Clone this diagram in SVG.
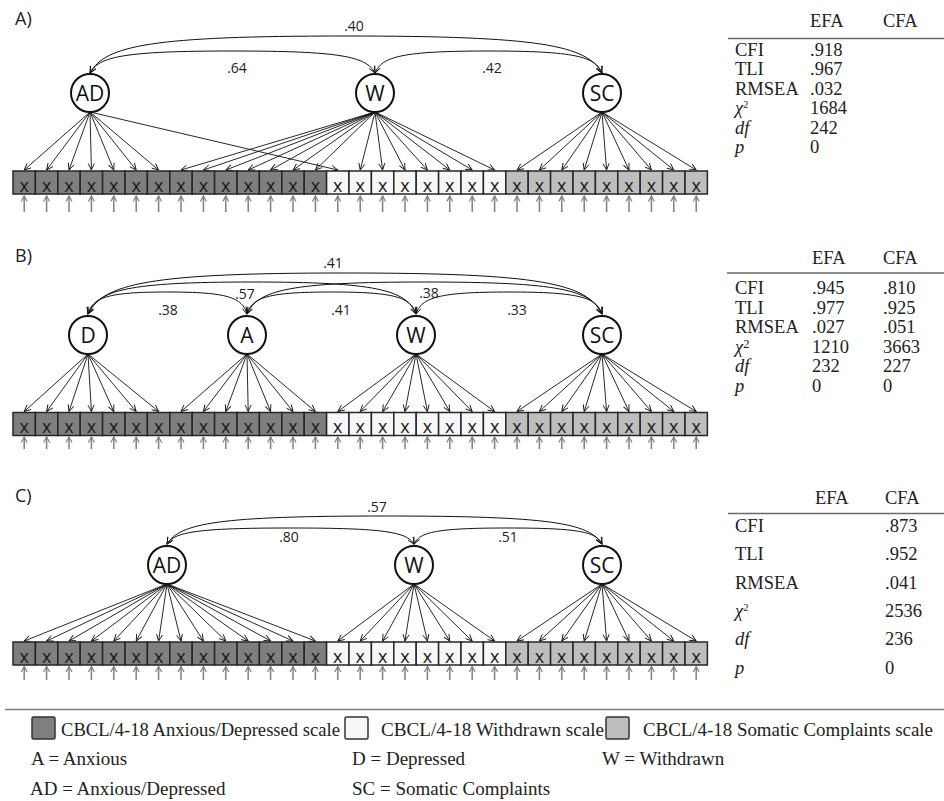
<svg xmlns="http://www.w3.org/2000/svg" width="944" height="801" viewBox="0 0 944 801">
<defs>
<marker id="ah" viewBox="-8 -4 9 8" refX="0" refY="0" markerWidth="9" markerHeight="8" orient="auto-start-reverse" markerUnits="userSpaceOnUse"><path d="M-6.5,-3 L0,0 L-6.5,3" fill="none" stroke="#111" stroke-width="0.9"/></marker>
<marker id="ahg" viewBox="-8 -4 9 8" refX="0" refY="0" markerWidth="9" markerHeight="8" orient="auto" markerUnits="userSpaceOnUse"><path d="M-5.5,-3 L0,0 L-5.5,3" fill="none" stroke="#808080" stroke-width="1.2"/></marker>
</defs>
<style>
.bd{fill:#7f7f7f}.bw{fill:#f7f7f7}.bg{fill:#bebebe}
.box rect{stroke:#262626;stroke-width:1.5}
.box text{font-family:"Open Sans","Liberation Sans",sans-serif;font-size:18px;text-anchor:middle;fill:#1a1a1a}
.fac circle{fill:#fff;stroke:#111;stroke-width:2}
.fac text{font-family:"Open Sans","Liberation Sans",sans-serif;font-size:21px;text-anchor:middle;fill:#111}
.num{font-family:"Open Sans","Liberation Sans",sans-serif;font-size:14px;text-anchor:middle;fill:#222}
.pl{font-family:"Open Sans","Liberation Sans",sans-serif;font-size:18px;fill:#222}
.ld path{fill:none;stroke:#111;stroke-width:0.9;marker-end:url(#ah)}
.cv path{fill:none;stroke:#111;stroke-width:1;marker-start:url(#ah);marker-end:url(#ah)}
.er path{fill:none;stroke:#808080;stroke-width:1.5;marker-end:url(#ahg)}
.tb{font-family:"Liberation Serif","Times New Roman",serif;font-size:18.5px;fill:#222}
.lg{font-family:"Liberation Serif","Times New Roman",serif;font-size:19px;fill:#222}
.it{font-style:italic}
.rule{stroke:#6a6a6a;stroke-width:1.5}
</style>

<text class="pl" x="15" y="25">A)</text>
<text class="pl" x="15" y="262">B)</text>
<text class="pl" x="15" y="502">C)</text>

<g id="connectors">
<g class="cv">
<path d="M90,73 C105.4,45.3 151.4,36 346,36 C540.6,36 586.6,45.3 602,73"/>
<path d="M90,73 C98.6,56.5 124.2,51 232.5,51 C340.8,51 366.4,56.5 375,73"/>
<path d="M375,73 C381.8,56.5 402.2,51 488.5,51 C574.8,51 595.2,56.5 602,73"/>
<path d="M88,314 C92.8,297.5 107.1,292 167.5,292 C227.9,292 242.2,297.5 247,314"/>
<path d="M247,314 C252.1,297.5 267.3,292 331.5,292 C395.7,292 410.9,297.5 416,314"/>
<path d="M416,314 C421.6,297.5 438.3,292 509,292 C579.7,292 596.4,297.5 602,314"/>
<path d="M88,314 C97.8,290 127.4,282 252,282 C376.6,282 406.2,290 416,314"/>
<path d="M247,314 C257.7,290 289.6,282 424.5,282 C559.4,282 591.3,290 602,314"/>
<path d="M88,314 C103.4,283.3 149.7,273 345,273 C540.3,273 586.6,283.3 602,314"/>
<path d="M167,544 C174.4,532 196.6,528 290.5,528 C384.4,528 406.6,532 414,544"/>
<path d="M414,544 C419.6,532 436.6,528 508,528 C579.4,528 596.4,532 602,544"/>
<path d="M167,544 C180,523 219.2,516 384.5,516 C549.8,516 589,523 602,544"/>
</g>
<g class="ld">
<path d="M90,112L24.2,170"/><path d="M90,112L46.6,170"/><path d="M90,112L69,170"/><path d="M90,112L91.4,170"/><path d="M90,112L113.8,170"/><path d="M90,112L136.2,170"/><path d="M90,112L158.6,170"/><path d="M90,112L337.8,170"/>
<path d="M375,112L181,170"/><path d="M375,112L203.4,170"/><path d="M375,112L225.8,170"/><path d="M375,112L248.2,170"/><path d="M375,112L270.6,170"/><path d="M375,112L293,170"/><path d="M375,112L315.4,170"/>
<path d="M375,112L360.2,170"/><path d="M375,112L382.6,170"/><path d="M375,112L405,170"/><path d="M375,112L427.4,170"/><path d="M375,112L449.8,170"/><path d="M375,112L472.2,170"/><path d="M375,112L494.6,170"/>
<path d="M602,112L517,170"/><path d="M602,112L539.4,170"/><path d="M602,112L561.8,170"/><path d="M602,112L584.2,170"/><path d="M602,112L606.6,170"/><path d="M602,112L629,170"/><path d="M602,112L651.4,170"/><path d="M602,112L673.8,170"/><path d="M602,112L696.2,170"/>

<path d="M88,354L24.2,411.5"/><path d="M88,354L46.6,411.5"/><path d="M88,354L69,411.5"/><path d="M88,354L91.4,411.5"/><path d="M88,354L113.8,411.5"/><path d="M88,354L136.2,411.5"/><path d="M88,354L158.6,411.5"/>
<path d="M247,354L181,411.5"/><path d="M247,354L203.4,411.5"/><path d="M247,354L225.8,411.5"/><path d="M247,354L248.2,411.5"/><path d="M247,354L270.6,411.5"/><path d="M247,354L293,411.5"/><path d="M247,354L315.4,411.5"/>
<path d="M416,354L337.8,411.5"/><path d="M416,354L360.2,411.5"/><path d="M416,354L382.6,411.5"/><path d="M416,354L405,411.5"/><path d="M416,354L427.4,411.5"/><path d="M416,354L449.8,411.5"/><path d="M416,354L472.2,411.5"/><path d="M416,354L494.6,411.5"/>
<path d="M602,354L517,411.5"/><path d="M602,354L539.4,411.5"/><path d="M602,354L561.8,411.5"/><path d="M602,354L584.2,411.5"/><path d="M602,354L606.6,411.5"/><path d="M602,354L629,411.5"/><path d="M602,354L651.4,411.5"/><path d="M602,354L673.8,411.5"/><path d="M602,354L696.2,411.5"/>

<path d="M167,584L24.2,641"/><path d="M167,584L46.6,641"/><path d="M167,584L69,641"/><path d="M167,584L91.4,641"/><path d="M167,584L113.8,641"/><path d="M167,584L136.2,641"/><path d="M167,584L158.6,641"/><path d="M167,584L181,641"/><path d="M167,584L203.4,641"/><path d="M167,584L225.8,641"/><path d="M167,584L248.2,641"/><path d="M167,584L270.6,641"/><path d="M167,584L293,641"/><path d="M167,584L315.4,641"/>
<path d="M414,584L337.8,641"/><path d="M414,584L360.2,641"/><path d="M414,584L382.6,641"/><path d="M414,584L405,641"/><path d="M414,584L427.4,641"/><path d="M414,584L449.8,641"/><path d="M414,584L472.2,641"/><path d="M414,584L494.6,641"/>
<path d="M602,584L517,641"/><path d="M602,584L539.4,641"/><path d="M602,584L561.8,641"/><path d="M602,584L584.2,641"/><path d="M602,584L606.6,641"/><path d="M602,584L629,641"/><path d="M602,584L651.4,641"/><path d="M602,584L673.8,641"/><path d="M602,584L696.2,641"/>
</g>
<g class="er">
<path d="M24.2,212V196"/><path d="M46.6,212V196"/><path d="M69,212V196"/><path d="M91.4,212V196"/><path d="M113.8,212V196"/><path d="M136.2,212V196"/><path d="M158.6,212V196"/><path d="M181,212V196"/><path d="M203.4,212V196"/><path d="M225.8,212V196"/><path d="M248.2,212V196"/><path d="M270.6,212V196"/><path d="M293,212V196"/><path d="M315.4,212V196"/><path d="M337.8,212V196"/><path d="M360.2,212V196"/><path d="M382.6,212V196"/><path d="M405,212V196"/><path d="M427.4,212V196"/><path d="M449.8,212V196"/><path d="M472.2,212V196"/><path d="M494.6,212V196"/><path d="M517,212V196"/><path d="M539.4,212V196"/><path d="M561.8,212V196"/><path d="M584.2,212V196"/><path d="M606.6,212V196"/><path d="M629,212V196"/><path d="M651.4,212V196"/><path d="M673.8,212V196"/><path d="M696.2,212V196"/>
<path d="M24.2,449V437"/><path d="M46.6,449V437"/><path d="M69,449V437"/><path d="M91.4,449V437"/><path d="M113.8,449V437"/><path d="M136.2,449V437"/><path d="M158.6,449V437"/><path d="M181,449V437"/><path d="M203.4,449V437"/><path d="M225.8,449V437"/><path d="M248.2,449V437"/><path d="M270.6,449V437"/><path d="M293,449V437"/><path d="M315.4,449V437"/><path d="M337.8,449V437"/><path d="M360.2,449V437"/><path d="M382.6,449V437"/><path d="M405,449V437"/><path d="M427.4,449V437"/><path d="M449.8,449V437"/><path d="M472.2,449V437"/><path d="M494.6,449V437"/><path d="M517,449V437"/><path d="M539.4,449V437"/><path d="M561.8,449V437"/><path d="M584.2,449V437"/><path d="M606.6,449V437"/><path d="M629,449V437"/><path d="M651.4,449V437"/><path d="M673.8,449V437"/><path d="M696.2,449V437"/>
<path d="M24.2,680V666.5"/><path d="M46.6,680V666.5"/><path d="M69,680V666.5"/><path d="M91.4,680V666.5"/><path d="M113.8,680V666.5"/><path d="M136.2,680V666.5"/><path d="M158.6,680V666.5"/><path d="M181,680V666.5"/><path d="M203.4,680V666.5"/><path d="M225.8,680V666.5"/><path d="M248.2,680V666.5"/><path d="M270.6,680V666.5"/><path d="M293,680V666.5"/><path d="M315.4,680V666.5"/><path d="M337.8,680V666.5"/><path d="M360.2,680V666.5"/><path d="M382.6,680V666.5"/><path d="M405,680V666.5"/><path d="M427.4,680V666.5"/><path d="M449.8,680V666.5"/><path d="M472.2,680V666.5"/><path d="M494.6,680V666.5"/><path d="M517,680V666.5"/><path d="M539.4,680V666.5"/><path d="M561.8,680V666.5"/><path d="M584.2,680V666.5"/><path d="M606.6,680V666.5"/><path d="M629,680V666.5"/><path d="M651.4,680V666.5"/><path d="M673.8,680V666.5"/><path d="M696.2,680V666.5"/>
</g>
</g>

<g class="num">
<text x="354" y="31">.40</text><text x="237" y="73">.64</text><text x="492" y="73">.42</text>
<text x="333" y="268">.41</text><text x="245" y="299">.57</text><text x="429" y="298">.38</text>
<text x="168" y="315">.38</text><text x="341" y="315">.41</text><text x="517" y="315">.33</text>
<text x="377" y="512">.57</text><text x="289" y="542">.80</text><text x="508" y="542">.51</text>
</g>

<g class="fac">
<g id="A-AD"><circle cx="90" cy="93" r="19"/><text x="90" y="101">AD</text></g>
<g id="A-W"><circle cx="375" cy="93" r="19"/><text x="375" y="101">W</text></g>
<g id="A-SC"><circle cx="602" cy="93" r="19"/><text x="602" y="101">SC</text></g>
<g id="B-D"><circle cx="88" cy="335" r="19"/><text x="88" y="343">D</text></g>
<g id="B-A"><circle cx="247" cy="335" r="19"/><text x="247" y="343">A</text></g>
<g id="B-W"><circle cx="416" cy="335" r="19"/><text x="416" y="343">W</text></g>
<g id="B-SC"><circle cx="602" cy="335" r="19"/><text x="602" y="343">SC</text></g>
<g id="C-AD"><circle cx="167" cy="565" r="19"/><text x="167" y="573">AD</text></g>
<g id="C-W"><circle cx="414" cy="565" r="19"/><text x="414" y="573">W</text></g>
<g id="C-SC"><circle cx="602" cy="565" r="19"/><text x="602" y="573">SC</text></g>
</g>

<g class="box" id="rowA" transform="translate(0,171)">
<g id="A1" transform="translate(13,0)"><rect class="bd" width="22.4" height="23"/><text x="11.2" y="20.7">x</text></g>
<g id="A2" transform="translate(35.4,0)"><rect class="bd" width="22.4" height="23"/><text x="11.2" y="20.7">x</text></g>
<g id="A3" transform="translate(57.8,0)"><rect class="bd" width="22.4" height="23"/><text x="11.2" y="20.7">x</text></g>
<g id="A4" transform="translate(80.2,0)"><rect class="bd" width="22.4" height="23"/><text x="11.2" y="20.7">x</text></g>
<g id="A5" transform="translate(102.6,0)"><rect class="bd" width="22.4" height="23"/><text x="11.2" y="20.7">x</text></g>
<g id="A6" transform="translate(125,0)"><rect class="bd" width="22.4" height="23"/><text x="11.2" y="20.7">x</text></g>
<g id="A7" transform="translate(147.4,0)"><rect class="bd" width="22.4" height="23"/><text x="11.2" y="20.7">x</text></g>
<g id="A8" transform="translate(169.8,0)"><rect class="bd" width="22.4" height="23"/><text x="11.2" y="20.7">x</text></g>
<g id="A9" transform="translate(192.2,0)"><rect class="bd" width="22.4" height="23"/><text x="11.2" y="20.7">x</text></g>
<g id="A10" transform="translate(214.6,0)"><rect class="bd" width="22.4" height="23"/><text x="11.2" y="20.7">x</text></g>
<g id="A11" transform="translate(237,0)"><rect class="bd" width="22.4" height="23"/><text x="11.2" y="20.7">x</text></g>
<g id="A12" transform="translate(259.4,0)"><rect class="bd" width="22.4" height="23"/><text x="11.2" y="20.7">x</text></g>
<g id="A13" transform="translate(281.8,0)"><rect class="bd" width="22.4" height="23"/><text x="11.2" y="20.7">x</text></g>
<g id="A14" transform="translate(304.2,0)"><rect class="bd" width="22.4" height="23"/><text x="11.2" y="20.7">x</text></g>
<g id="A15" transform="translate(326.6,0)"><rect class="bw" width="22.4" height="23"/><text x="11.2" y="20.7">x</text></g>
<g id="A16" transform="translate(349,0)"><rect class="bw" width="22.4" height="23"/><text x="11.2" y="20.7">x</text></g>
<g id="A17" transform="translate(371.4,0)"><rect class="bw" width="22.4" height="23"/><text x="11.2" y="20.7">x</text></g>
<g id="A18" transform="translate(393.8,0)"><rect class="bw" width="22.4" height="23"/><text x="11.2" y="20.7">x</text></g>
<g id="A19" transform="translate(416.2,0)"><rect class="bw" width="22.4" height="23"/><text x="11.2" y="20.7">x</text></g>
<g id="A20" transform="translate(438.6,0)"><rect class="bw" width="22.4" height="23"/><text x="11.2" y="20.7">x</text></g>
<g id="A21" transform="translate(461,0)"><rect class="bw" width="22.4" height="23"/><text x="11.2" y="20.7">x</text></g>
<g id="A22" transform="translate(483.4,0)"><rect class="bw" width="22.4" height="23"/><text x="11.2" y="20.7">x</text></g>
<g id="A23" transform="translate(505.8,0)"><rect class="bg" width="22.4" height="23"/><text x="11.2" y="20.7">x</text></g>
<g id="A24" transform="translate(528.2,0)"><rect class="bg" width="22.4" height="23"/><text x="11.2" y="20.7">x</text></g>
<g id="A25" transform="translate(550.6,0)"><rect class="bg" width="22.4" height="23"/><text x="11.2" y="20.7">x</text></g>
<g id="A26" transform="translate(573,0)"><rect class="bg" width="22.4" height="23"/><text x="11.2" y="20.7">x</text></g>
<g id="A27" transform="translate(595.4,0)"><rect class="bg" width="22.4" height="23"/><text x="11.2" y="20.7">x</text></g>
<g id="A28" transform="translate(617.8,0)"><rect class="bg" width="22.4" height="23"/><text x="11.2" y="20.7">x</text></g>
<g id="A29" transform="translate(640.2,0)"><rect class="bg" width="22.4" height="23"/><text x="11.2" y="20.7">x</text></g>
<g id="A30" transform="translate(662.6,0)"><rect class="bg" width="22.4" height="23"/><text x="11.2" y="20.7">x</text></g>
<g id="A31" transform="translate(685,0)"><rect class="bg" width="22.4" height="23"/><text x="11.2" y="20.7">x</text></g>
</g>

<g class="box" id="rowB" transform="translate(0,412.5)">
<g id="B1" transform="translate(13,0)"><rect class="bd" width="22.4" height="23"/><text x="11.2" y="20.7">x</text></g>
<g id="B2" transform="translate(35.4,0)"><rect class="bd" width="22.4" height="23"/><text x="11.2" y="20.7">x</text></g>
<g id="B3" transform="translate(57.8,0)"><rect class="bd" width="22.4" height="23"/><text x="11.2" y="20.7">x</text></g>
<g id="B4" transform="translate(80.2,0)"><rect class="bd" width="22.4" height="23"/><text x="11.2" y="20.7">x</text></g>
<g id="B5" transform="translate(102.6,0)"><rect class="bd" width="22.4" height="23"/><text x="11.2" y="20.7">x</text></g>
<g id="B6" transform="translate(125,0)"><rect class="bd" width="22.4" height="23"/><text x="11.2" y="20.7">x</text></g>
<g id="B7" transform="translate(147.4,0)"><rect class="bd" width="22.4" height="23"/><text x="11.2" y="20.7">x</text></g>
<g id="B8" transform="translate(169.8,0)"><rect class="bd" width="22.4" height="23"/><text x="11.2" y="20.7">x</text></g>
<g id="B9" transform="translate(192.2,0)"><rect class="bd" width="22.4" height="23"/><text x="11.2" y="20.7">x</text></g>
<g id="B10" transform="translate(214.6,0)"><rect class="bd" width="22.4" height="23"/><text x="11.2" y="20.7">x</text></g>
<g id="B11" transform="translate(237,0)"><rect class="bd" width="22.4" height="23"/><text x="11.2" y="20.7">x</text></g>
<g id="B12" transform="translate(259.4,0)"><rect class="bd" width="22.4" height="23"/><text x="11.2" y="20.7">x</text></g>
<g id="B13" transform="translate(281.8,0)"><rect class="bd" width="22.4" height="23"/><text x="11.2" y="20.7">x</text></g>
<g id="B14" transform="translate(304.2,0)"><rect class="bd" width="22.4" height="23"/><text x="11.2" y="20.7">x</text></g>
<g id="B15" transform="translate(326.6,0)"><rect class="bw" width="22.4" height="23"/><text x="11.2" y="20.7">x</text></g>
<g id="B16" transform="translate(349,0)"><rect class="bw" width="22.4" height="23"/><text x="11.2" y="20.7">x</text></g>
<g id="B17" transform="translate(371.4,0)"><rect class="bw" width="22.4" height="23"/><text x="11.2" y="20.7">x</text></g>
<g id="B18" transform="translate(393.8,0)"><rect class="bw" width="22.4" height="23"/><text x="11.2" y="20.7">x</text></g>
<g id="B19" transform="translate(416.2,0)"><rect class="bw" width="22.4" height="23"/><text x="11.2" y="20.7">x</text></g>
<g id="B20" transform="translate(438.6,0)"><rect class="bw" width="22.4" height="23"/><text x="11.2" y="20.7">x</text></g>
<g id="B21" transform="translate(461,0)"><rect class="bw" width="22.4" height="23"/><text x="11.2" y="20.7">x</text></g>
<g id="B22" transform="translate(483.4,0)"><rect class="bw" width="22.4" height="23"/><text x="11.2" y="20.7">x</text></g>
<g id="B23" transform="translate(505.8,0)"><rect class="bg" width="22.4" height="23"/><text x="11.2" y="20.7">x</text></g>
<g id="B24" transform="translate(528.2,0)"><rect class="bg" width="22.4" height="23"/><text x="11.2" y="20.7">x</text></g>
<g id="B25" transform="translate(550.6,0)"><rect class="bg" width="22.4" height="23"/><text x="11.2" y="20.7">x</text></g>
<g id="B26" transform="translate(573,0)"><rect class="bg" width="22.4" height="23"/><text x="11.2" y="20.7">x</text></g>
<g id="B27" transform="translate(595.4,0)"><rect class="bg" width="22.4" height="23"/><text x="11.2" y="20.7">x</text></g>
<g id="B28" transform="translate(617.8,0)"><rect class="bg" width="22.4" height="23"/><text x="11.2" y="20.7">x</text></g>
<g id="B29" transform="translate(640.2,0)"><rect class="bg" width="22.4" height="23"/><text x="11.2" y="20.7">x</text></g>
<g id="B30" transform="translate(662.6,0)"><rect class="bg" width="22.4" height="23"/><text x="11.2" y="20.7">x</text></g>
<g id="B31" transform="translate(685,0)"><rect class="bg" width="22.4" height="23"/><text x="11.2" y="20.7">x</text></g>
</g>

<g class="box" id="rowC" transform="translate(0,642)">
<g id="C1" transform="translate(13,0)"><rect class="bd" width="22.4" height="23"/><text x="11.2" y="20.7">x</text></g>
<g id="C2" transform="translate(35.4,0)"><rect class="bd" width="22.4" height="23"/><text x="11.2" y="20.7">x</text></g>
<g id="C3" transform="translate(57.8,0)"><rect class="bd" width="22.4" height="23"/><text x="11.2" y="20.7">x</text></g>
<g id="C4" transform="translate(80.2,0)"><rect class="bd" width="22.4" height="23"/><text x="11.2" y="20.7">x</text></g>
<g id="C5" transform="translate(102.6,0)"><rect class="bd" width="22.4" height="23"/><text x="11.2" y="20.7">x</text></g>
<g id="C6" transform="translate(125,0)"><rect class="bd" width="22.4" height="23"/><text x="11.2" y="20.7">x</text></g>
<g id="C7" transform="translate(147.4,0)"><rect class="bd" width="22.4" height="23"/><text x="11.2" y="20.7">x</text></g>
<g id="C8" transform="translate(169.8,0)"><rect class="bd" width="22.4" height="23"/><text x="11.2" y="20.7">x</text></g>
<g id="C9" transform="translate(192.2,0)"><rect class="bd" width="22.4" height="23"/><text x="11.2" y="20.7">x</text></g>
<g id="C10" transform="translate(214.6,0)"><rect class="bd" width="22.4" height="23"/><text x="11.2" y="20.7">x</text></g>
<g id="C11" transform="translate(237,0)"><rect class="bd" width="22.4" height="23"/><text x="11.2" y="20.7">x</text></g>
<g id="C12" transform="translate(259.4,0)"><rect class="bd" width="22.4" height="23"/><text x="11.2" y="20.7">x</text></g>
<g id="C13" transform="translate(281.8,0)"><rect class="bd" width="22.4" height="23"/><text x="11.2" y="20.7">x</text></g>
<g id="C14" transform="translate(304.2,0)"><rect class="bd" width="22.4" height="23"/><text x="11.2" y="20.7">x</text></g>
<g id="C15" transform="translate(326.6,0)"><rect class="bw" width="22.4" height="23"/><text x="11.2" y="20.7">x</text></g>
<g id="C16" transform="translate(349,0)"><rect class="bw" width="22.4" height="23"/><text x="11.2" y="20.7">x</text></g>
<g id="C17" transform="translate(371.4,0)"><rect class="bw" width="22.4" height="23"/><text x="11.2" y="20.7">x</text></g>
<g id="C18" transform="translate(393.8,0)"><rect class="bw" width="22.4" height="23"/><text x="11.2" y="20.7">x</text></g>
<g id="C19" transform="translate(416.2,0)"><rect class="bw" width="22.4" height="23"/><text x="11.2" y="20.7">x</text></g>
<g id="C20" transform="translate(438.6,0)"><rect class="bw" width="22.4" height="23"/><text x="11.2" y="20.7">x</text></g>
<g id="C21" transform="translate(461,0)"><rect class="bw" width="22.4" height="23"/><text x="11.2" y="20.7">x</text></g>
<g id="C22" transform="translate(483.4,0)"><rect class="bw" width="22.4" height="23"/><text x="11.2" y="20.7">x</text></g>
<g id="C23" transform="translate(505.8,0)"><rect class="bg" width="22.4" height="23"/><text x="11.2" y="20.7">x</text></g>
<g id="C24" transform="translate(528.2,0)"><rect class="bg" width="22.4" height="23"/><text x="11.2" y="20.7">x</text></g>
<g id="C25" transform="translate(550.6,0)"><rect class="bg" width="22.4" height="23"/><text x="11.2" y="20.7">x</text></g>
<g id="C26" transform="translate(573,0)"><rect class="bg" width="22.4" height="23"/><text x="11.2" y="20.7">x</text></g>
<g id="C27" transform="translate(595.4,0)"><rect class="bg" width="22.4" height="23"/><text x="11.2" y="20.7">x</text></g>
<g id="C28" transform="translate(617.8,0)"><rect class="bg" width="22.4" height="23"/><text x="11.2" y="20.7">x</text></g>
<g id="C29" transform="translate(640.2,0)"><rect class="bg" width="22.4" height="23"/><text x="11.2" y="20.7">x</text></g>
<g id="C30" transform="translate(662.6,0)"><rect class="bg" width="22.4" height="23"/><text x="11.2" y="20.7">x</text></g>
<g id="C31" transform="translate(685,0)"><rect class="bg" width="22.4" height="23"/><text x="11.2" y="20.7">x</text></g>
</g>

<g id="tableA" class="tb">
<text x="810" y="27">EFA</text><text x="883" y="27">CFA</text>
<path class="rule" d="M728,38.5H944"/>
<text x="735" y="55.5">CFI</text><text x="810" y="55.5">.918</text>
<text x="735" y="75">TLI</text><text x="810" y="75">.967</text>
<text x="735" y="94.5">RMSEA</text><text x="810" y="94.5">.032</text>
<text x="735" y="114"><tspan class="it">χ</tspan><tspan font-size="10" dy="-6.5">2</tspan></text><text x="810" y="114">1684</text>
<text x="735" y="133.5" class="it">df</text><text x="810" y="133.5">242</text>
<text x="735" y="153" class="it">p</text><text x="810" y="153">0</text>
</g>

<g id="tableB" class="tb">
<text x="812" y="263.5">EFA</text><text x="883" y="263.5">CFA</text>
<path class="rule" d="M727,273H944"/>
<text x="735" y="294">CFI</text><text x="812" y="294">.945</text><text x="883" y="294">.810</text>
<text x="735" y="313.5">TLI</text><text x="812" y="313.5">.977</text><text x="883" y="313.5">.925</text>
<text x="735" y="333">RMSEA</text><text x="812" y="333">.027</text><text x="883" y="333">.051</text>
<text x="735" y="352.5"><tspan class="it">χ</tspan><tspan font-size="12.5" dy="-5">2</tspan></text><text x="812" y="352.5">1210</text><text x="883" y="352.5">3663</text>
<text x="735" y="372" class="it">df</text><text x="812" y="372">232</text><text x="883" y="372">227</text>
<text x="735" y="391.5" class="it">p</text><text x="812" y="391.5">0</text><text x="883" y="391.5">0</text>
</g>

<g id="tableC" class="tb">
<text x="815" y="503.5">EFA</text><text x="885" y="503.5">CFA</text>
<path class="rule" d="M728,513.5H944"/>
<text x="735" y="532">CFI</text><text x="885" y="532">.873</text>
<text x="735" y="560.3">TLI</text><text x="885" y="560.3">.952</text>
<text x="735" y="588.6">RMSEA</text><text x="885" y="588.6">.041</text>
<text x="735" y="617"><tspan class="it">χ</tspan><tspan font-size="10.5" dy="-6.5">2</tspan></text><text x="885" y="617">2536</text>
<text x="735" y="645.2" class="it">df</text><text x="885" y="645.2">236</text>
<text x="735" y="673.5" class="it">p</text><text x="885" y="673.5">0</text>
</g>

<g id="legend">
<path d="M5,709.5H944" stroke="#808080" stroke-width="1.5"/>
<rect x="32" y="717" width="23" height="22" rx="1.5" fill="#7f7f7f" stroke="#333" stroke-width="1.5"/>
<rect x="345" y="717" width="23" height="22" rx="1.5" fill="#f7f7f7" stroke="#333" stroke-width="1.5"/>
<rect x="606" y="717" width="23" height="22" rx="1.5" fill="#bebebe" stroke="#333" stroke-width="1.5"/>
<g class="lg">
<text x="61" y="736" textLength="279" lengthAdjust="spacingAndGlyphs">CBCL/4-18 Anxious/Depressed scale</text>
<text x="381" y="736" textLength="223" lengthAdjust="spacingAndGlyphs">CBCL/4-18 Withdrawn scale</text>
<text x="643" y="736" textLength="290" lengthAdjust="spacingAndGlyphs">CBCL/4-18 Somatic Complaints scale</text>
<text x="31" y="765">A = Anxious</text>
<text x="352" y="765">D = Depressed</text>
<text x="602" y="765">W = Withdrawn</text>
<text x="30" y="795">AD = Anxious/Depressed</text>
<text x="352" y="795">SC = Somatic Complaints</text>
</g>
</g>
</svg>
